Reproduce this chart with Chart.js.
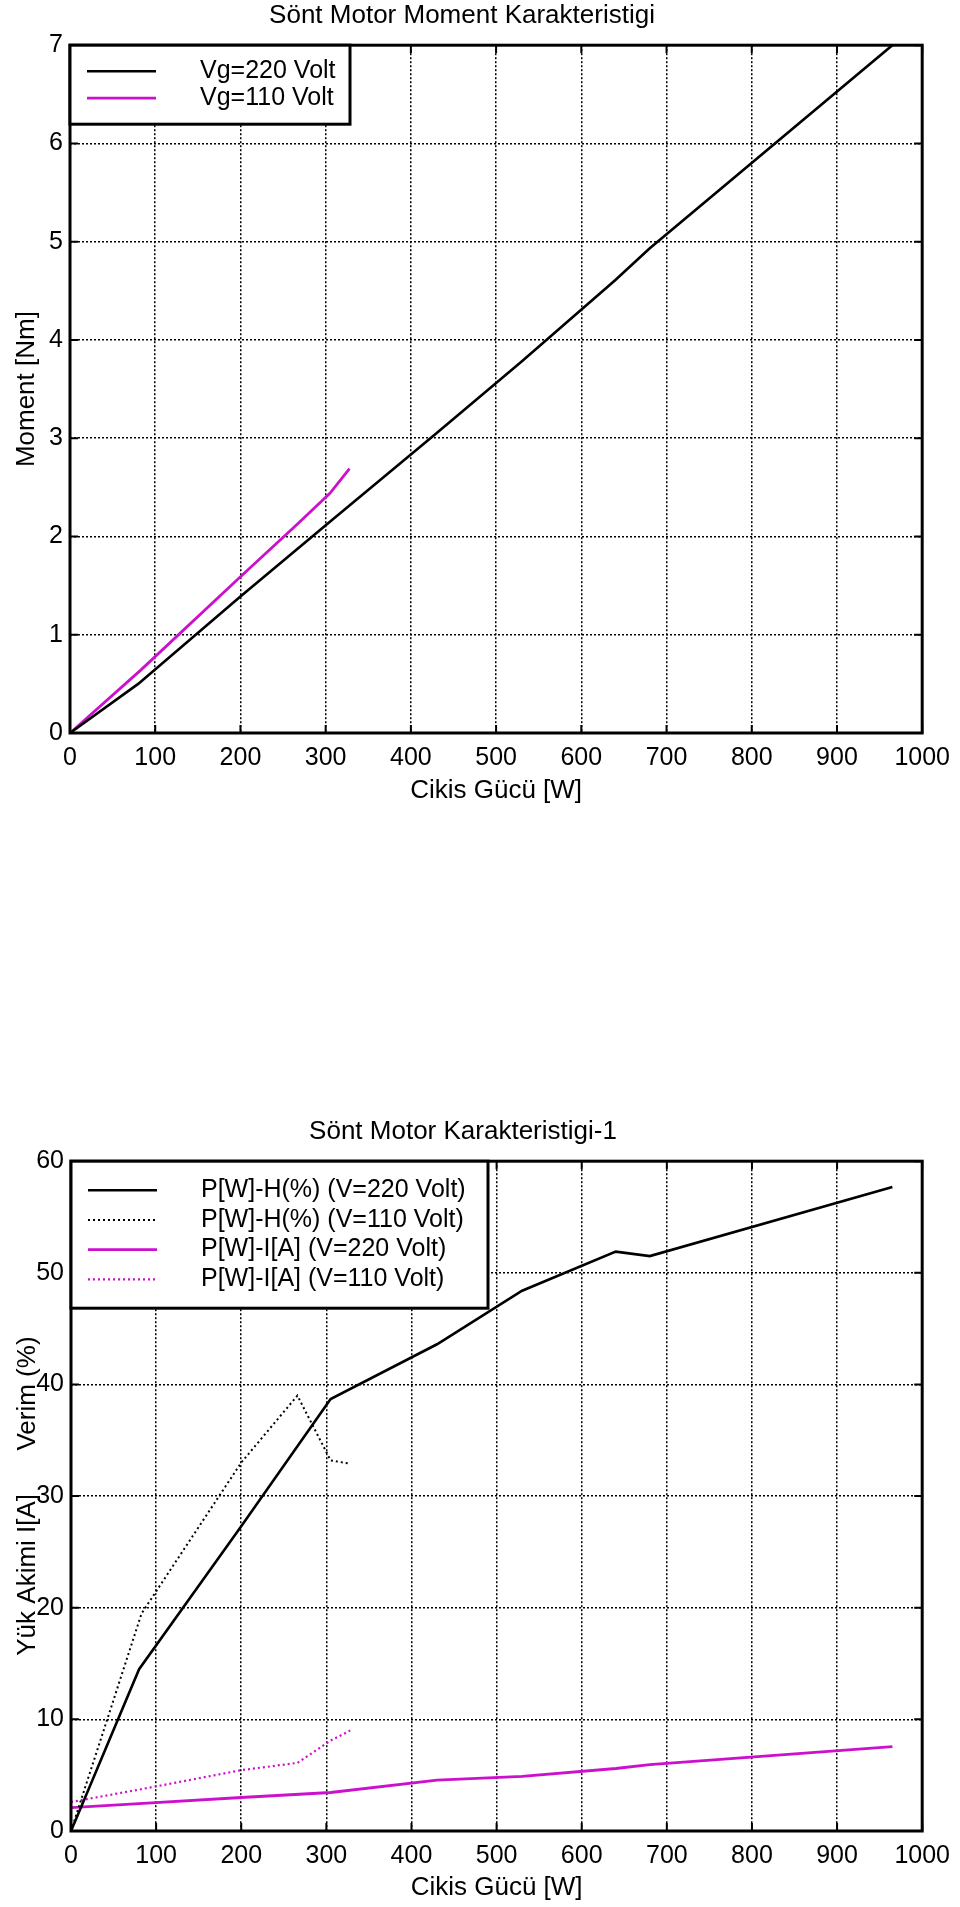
<!DOCTYPE html>
<html lang="tr">
<head>
<meta charset="UTF-8">
<title>Sönt Motor Karakteristikleri</title>
<script src="https://cdn.jsdelivr.net/npm/chart.js"></script>
<style>
  html, body { margin: 0; padding: 0; background: #fff; }
  body { width: 960px; height: 1907px; position: relative; overflow: hidden; }
  .box { position: absolute; left: 0; width: 960px; }
</style>
</head>
<body>

<div class="box" style="top:0;height:810px"><canvas id="momentChart" width="960" height="810"></canvas></div>
<div class="box" style="top:1100px;height:807px"><canvas id="karChart" width="960" height="807"></canvas></div>

<script>
// Cikis gücü [W] olculen noktalar
const p220 = [0, 80, 200, 305, 430, 530, 640, 680, 965];
const p110 = [0, 83, 200, 266, 305, 328];

// Moment [Nm]
const moment220 = [0, 0.50, 1.39, 2.15, 3.05, 3.78, 4.61, 4.93, 7.0];
const moment110 = [0, 0.64, 1.59, 2.12, 2.44, 2.69];

// Verim (%)
const verim220 = [0, 14.5, 27.3, 38.7, 43.6, 48.4, 51.9, 51.5, 57.7];
const verim110 = [0, 19.5, 33.0, 39.0, 33.2, 32.9];

// Yuk akimi I[A]
const akim220 = [2.1, 2.45, 3.0, 3.45, 4.55, 4.9, 5.6, 5.95, 7.55];
const akim110 = [2.6, 3.75, 5.45, 6.1, 8.1, 9.0];

// eksen tikleri
const xTicks = [0, 100, 200, 300, 400, 500, 600, 700, 800, 900, 1000];
const momentTicks = [0, 1, 2, 3, 4, 5, 6, 7];
const verimTicks = [0, 10, 20, 30, 40, 50, 60];

const MAGENTA = '#cc11cc';
const FONT = '"Liberation Sans", Arial, Helvetica, sans-serif';

Chart.defaults.font.family = FONT;
Chart.defaults.font.size = 25;
Chart.defaults.color = '#000';

function pts(xs, ys) {
    return xs.map((x, i) => ({ x: x, y: ys[i] }));
}

function setTicks(values) {
    return function (scale) {
        scale.ticks = values.map(v => ({ value: v }));
    };
}

// cerceve, ice bakan tik isaretleri ve sol ust kosedeki legend kutusu
const frameLegend = {
    id: 'frameLegend',
    afterDraw(chart, args, opts) {
        const { ctx, chartArea: a, scales } = chart;
        ctx.save();
        ctx.strokeStyle = '#000';
        ctx.setLineDash([]);
        ctx.lineWidth = 2;
        ctx.beginPath();
        scales.x.ticks.forEach(t => {
            const px = scales.x.getPixelForValue(t.value);
            ctx.moveTo(px, a.bottom); ctx.lineTo(px, a.bottom - 8);
            ctx.moveTo(px, a.top); ctx.lineTo(px, a.top + 8);
        });
        scales.y.ticks.forEach(t => {
            const py = scales.y.getPixelForValue(t.value);
            ctx.moveTo(a.left, py); ctx.lineTo(a.left + 8, py);
            ctx.moveTo(a.right, py); ctx.lineTo(a.right - 8, py);
        });
        ctx.stroke();
        ctx.lineWidth = 3;
        ctx.strokeRect(a.left, a.top, a.right - a.left, a.bottom - a.top);

        // legend
        ctx.fillStyle = '#fff';
        ctx.fillRect(a.left, a.top, opts.width, opts.height);
        ctx.strokeRect(a.left, a.top, opts.width, opts.height);
        ctx.font = '25px ' + FONT;
        ctx.textBaseline = 'middle';
        ctx.textAlign = 'left';
        ctx.fillStyle = '#000';
        chart.data.datasets.forEach((ds, i) => {
            const y = a.top + opts.firstRow + i * opts.rowGap;
            ctx.save();
            ctx.strokeStyle = ds.borderColor;
            ctx.lineWidth = ds.borderWidth;
            ctx.setLineDash(ds.borderDash || []);
            ctx.beginPath();
            ctx.moveTo(a.left + 17, y);
            ctx.lineTo(a.left + 86, y);
            ctx.stroke();
            ctx.restore();
            ctx.fillText(ds.label, a.left + 130, y);
        });
        ctx.restore();
    }
};

function xScale(height) {
    return {
        type: 'linear',
        min: 0,
        max: 1000,
        afterBuildTicks: setTicks(xTicks),
        afterFit: s => { s.height = height; },
        grid: { color: '#000', lineWidth: 1.5, drawTicks: false },
        border: { display: false, dash: [2, 2] },
        ticks: { padding: 10, font: { size: 25 }, callback: v => String(v) },
        title: { display: true, text: 'Cikis Gücü [W]', font: { size: 26 }, padding: { top: 0, bottom: 4 } }
    };
}

function yScale(max, values, width, label, titlePad) {
    return {
        min: 0,
        max: max,
        afterBuildTicks: setTicks(values),
        afterFit: s => { s.width = width; },
        grid: { color: '#000', lineWidth: 1.5, drawTicks: false },
        border: { display: false, dash: [2, 2] },
        ticks: { padding: 7, font: { size: 25 }, callback: v => String(v) },
        title: { display: true, text: label, font: { size: 26 }, padding: { top: titlePad, bottom: 0 } }
    };
}

const lineBase = { pointRadius: 0, tension: 0, fill: false };

new Chart(document.getElementById('momentChart'), {
    type: 'line',
    data: {
        datasets: [
            Object.assign({ label: 'Vg=220 Volt', data: pts(p220, moment220), borderColor: '#000', borderWidth: 2.6 }, lineBase),
            Object.assign({ label: 'Vg=110 Volt', data: pts(p110, moment110), borderColor: MAGENTA, borderWidth: 2.8 }, lineBase)
        ]
    },
    options: {
        responsive: false,
        animation: false,
        devicePixelRatio: 1,
        layout: { padding: { left: 0, right: 36, top: 0, bottom: 0 } },
        plugins: {
            legend: { display: false },
            tooltip: { enabled: false },
            title: { display: true, text: 'Sönt Motor Moment Karakteristigi', font: { size: 26, weight: 'normal' }, padding: { top: 0, bottom: 14 } },
            frameLegend: { width: 280, height: 79, firstRow: 26, rowGap: 27 }
        },
        scales: {
            x: xScale(77),
            y: yScale(7, momentTicks, 70, 'Moment [Nm]', 11)
        }
    },
    plugins: [frameLegend]
});

new Chart(document.getElementById('karChart'), {
    type: 'line',
    data: {
        datasets: [
            Object.assign({ label: 'P[W]-H(%) (V=220 Volt)', data: pts(p220, verim220), borderColor: '#000', borderWidth: 2.6 }, lineBase),
            Object.assign({ label: 'P[W]-H(%) (V=110 Volt)', data: pts(p110, verim110), borderColor: '#000', borderWidth: 2, borderDash: [2, 3] }, lineBase),
            Object.assign({ label: 'P[W]-I[A] (V=220 Volt)', data: pts(p220, akim220), borderColor: MAGENTA, borderWidth: 2.8 }, lineBase),
            Object.assign({ label: 'P[W]-I[A] (V=110 Volt)', data: pts(p110, akim110), borderColor: MAGENTA, borderWidth: 2.2, borderDash: [2, 3] }, lineBase)
        ]
    },
    options: {
        responsive: false,
        animation: false,
        devicePixelRatio: 1,
        layout: { padding: { left: 0, right: 34, top: 0, bottom: 0 } },
        plugins: {
            legend: { display: false },
            tooltip: { enabled: false },
            title: { display: true, text: 'Sönt Motor Karakteristigi-1', font: { size: 26, weight: 'normal' }, padding: { top: 16, bottom: 14 } },
            frameLegend: { width: 417, height: 147, firstRow: 29, rowGap: 29.7 }
        },
        scales: {
            x: xScale(76),
            y: yScale(60, verimTicks, 71, 'Yük Akimi I[A]      Verim (%)', 12)
        }
    },
    plugins: [frameLegend]
});
</script>

</body>
</html>
